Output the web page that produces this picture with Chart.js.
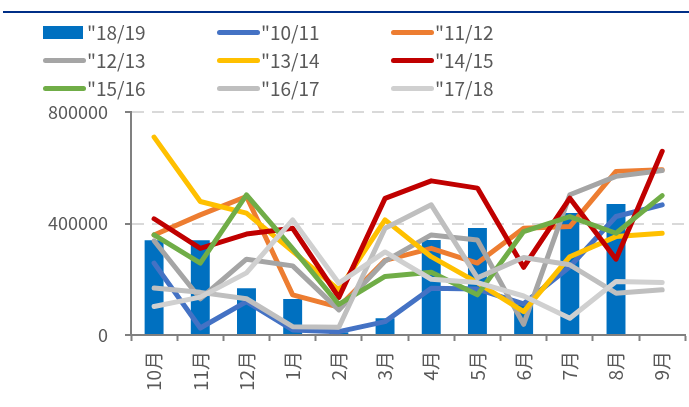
<!DOCTYPE html>
<html>
<head>
<meta charset="utf-8">
<script src="https://cdn.jsdelivr.net/npm/chart.js@4"></script>
<style>
  body { margin: 0; background: #fff; overflow: hidden; width: 689px; height: 407px; position: relative; }
  #topline { position: absolute; left: 3px; right: 0; top: 11px; height: 2px; background: #002f87; }
  #wrap { position: absolute; left: 0; top: 0; width: 695px; height: 407px; }
  #legend { position: absolute; left: 0; top: 0; width: 689px; height: 110px; font-family: "Noto Sans CJK SC", "Noto Sans", sans-serif; font-size: 19px; color: #595959; }
  .item { position: absolute; height: 28px; line-height: 28px; white-space: nowrap; }
  .sw { position: absolute; left: 0; }
  .txt { position: absolute; left: 44px; top: 0; }
</style>
</head>
<body>
<div id="topline"></div>
<div id="wrap"><canvas id="myChart"></canvas></div>
<div id="legend"></div>
<script>
// months of the season, Oct -> Sep
const months = ['10月', '11月', '12月', '1月', '2月', '3月', '4月', '5月', '6月', '7月', '8月', '9月']

const s1819 = [340000, 340000, 168000, 129000, 10000, 60000, 341000, 384000, 110000, 438000, 470000, null]
const s1011 = [258000, 25000, 120000, 18000, 12000, 48000, 168000, 165000, 112000, 245000, 425000, 467000]
const s1112 = [359000, 431000, 497000, 144000, 100000, 268000, 311000, 258000, 383000, 389000, 587000, 593000]
const s1213 = [338000, 130000, 272000, 248000, 90000, 265000, 359000, 341000, 38000, 503000, 569000, 590000]
const s1314 = [710000, 479000, 437000, 300000, 162000, 413000, 281000, 188000, 84000, 281000, 353000, 365000]
const s1415 = [417000, 311000, 362000, 383000, 135000, 490000, 553000, 527000, 243000, 491000, 272000, 659000]
const s1516 = [359000, 258000, 503000, 310000, 110000, 210000, 225000, 144000, 371000, 425000, 365000, 500000]
const s1617 = [169000, 153000, 130000, 30000, 28000, 383000, 467000, 205000, 278000, 252000, 150000, 162000]
const s1718 = [102000, 136000, 223000, 413000, 186000, 298000, 200000, 188000, 140000, 60000, 192000, 188000]

const yTicks = [0, 400000, 800000]

const lineNames = ['"10/11', '"11/12', '"12/13', '"13/14', '"14/15', '"15/16', '"16/17', '"17/18']
const lineData = [s1011, s1112, s1213, s1314, s1415, s1516, s1617, s1718]
const lineColors = ['#4472c4', '#ed7d31', '#a5a5a5', '#ffc000', '#c00000', '#70ad47', '#bfbfbf', '#d0d0d0']

Chart.defaults.font.family = '"Noto Sans CJK SC", "Noto Sans", sans-serif'

let datasets = [{
  type: 'bar',
  label: '"18/19',
  data: s1819,
  backgroundColor: '#0070c0',
  categoryPercentage: 1,
  barPercentage: 0.41,
  order: 20
}]
lineData.forEach(function(d, i) {
  datasets.push({
    type: 'line',
    label: lineNames[i],
    data: d,
    borderColor: lineColors[i],
    backgroundColor: lineColors[i],
    borderWidth: 5,
    pointRadius: 0,
    tension: 0,
    borderCapStyle: 'round',
    borderJoinStyle: 'round',
    order: 10 - i
  })
})

var ctx = document.getElementById('myChart').getContext('2d')
var chart = new Chart(ctx, {
  data: { labels: months, datasets: datasets },
  options: {
    responsive: true,
    maintainAspectRatio: false,
    animation: false,
    layout: { padding: { top: 112, left: 0, right: 0, bottom: 0 } },
    plugins: { legend: { display: false }, tooltip: { enabled: false } },
    scales: {
      x: {
        offset: true,
        afterFit: function(s) { s.height = 72 },
        grid: { offset: true, drawOnChartArea: false, drawTicks: true, tickLength: 6, tickColor: '#808080', tickWidth: 2 },
        border: { color: '#808080', width: 2 },
        ticks: { minRotation: 90, maxRotation: 90, padding: 10, color: '#595959', font: { size: 19 } }
      },
      y: {
        min: 0,
        max: 800000,
        afterFit: function(s) { s.width = 131 },
        afterBuildTicks: function(s) { s.ticks = yTicks.map(function(v) { return { value: v } }) },
        grid: {
          color: function(c) { return c.tick && c.tick.value === 0 ? 'rgba(0,0,0,0)' : '#d9d9d9' },
          lineWidth: 2,
          tickLength: 6,
          tickColor: '#808080',
          tickWidth: 2,
          tickBorderDash: []
        },
        border: { color: '#808080', width: 2, dash: [12, 8] },
        ticks: { padding: 17, color: '#595959', font: { size: 18 }, callback: function(v) { return String(v) } }
      }
    }
  }
})

// legend laid out in 3 columns like the original
function buildLegend() {
  var box = document.getElementById('legend')
  var colX = [43, 217, 391]
  var rowY = [18, 46, 74]
  chart.data.datasets.forEach(function(ds, i) {
    var item = document.createElement('div')
    item.className = 'item'
    item.style.left = colX[i % 3] + 'px'
    item.style.top = rowY[Math.floor(i / 3)] + 'px'
    var sw = document.createElement('div')
    sw.className = 'sw'
    if (ds.type === 'bar') {
      sw.style.cssText = 'left:0;top:8px;width:40px;height:13px;background:' + ds.backgroundColor
    } else {
      sw.style.cssText = 'left:0;top:12px;width:43px;height:5px;border-radius:3px;background:' + ds.borderColor
    }
    var t = document.createElement('span')
    t.className = 'txt'
    t.textContent = ds.label
    item.appendChild(sw)
    item.appendChild(t)
    box.appendChild(item)
  })
}
buildLegend()
</script>
</body>
</html>
